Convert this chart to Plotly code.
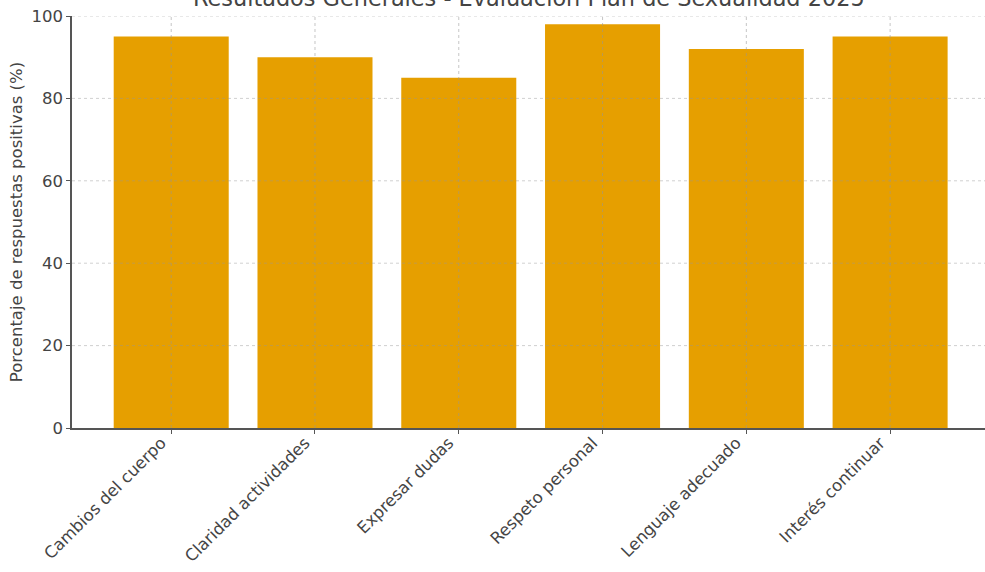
import plotly.graph_objects as go

# Datos de la evaluación
categorias = ['Cambios del cuerpo', 'Claridad actividades', 'Expresar dudas',
              'Respeto personal', 'Lenguaje adecuado', 'Interés continuar']
porcentajes = [95, 90, 85, 98, 92, 95]
y_ticks = [0, 20, 40, 60, 80, 100]

titulo = 'Resultados Generales - Evaluación Plan de Sexualidad 2025'
eje_y = 'Porcentaje de respuestas positivas (%)'

fig = go.Figure()
fig.add_trace(go.Bar(x=list(range(len(categorias))), y=porcentajes, width=0.8,
                     marker=dict(color='#E69F00', line=dict(width=0))))

# grid drawn above the bars (as in the original)
for i in range(len(categorias)):
    fig.add_shape(type='line', xref='x', yref='y', x0=i, x1=i, y0=0, y1=100, layer='above',
                  line=dict(color='rgba(150,150,150,0.55)', width=1, dash='dot'))
for v in y_ticks[1:]:
    fig.add_shape(type='line', xref='paper', yref='y', x0=0, x1=1, y0=v, y1=v, layer='above',
                  line=dict(color='rgba(150,150,150,0.45)', width=1, dash='dot'))

# title sits partly above the page edge, as in the reference image
fig.add_annotation(text=titulo, xref='paper', yref='paper', x=0.5, y=1.007,
                   xanchor='center', yanchor='bottom', showarrow=False,
                   font=dict(size=22.4, color='#444444'))

fig.update_layout(width=985, height=572, template='plotly_white', font_family='DejaVu Sans',
                  font=dict(color='#444444', size=16.5), showlegend=False,
                  plot_bgcolor='white', paper_bgcolor='white',
                  margin=dict(l=72, r=0, t=16, b=144, autoexpand=False))

fig.update_xaxes(range=[-0.69, 5.66], tickmode='array', tickvals=list(range(len(categorias))),
                 ticktext=categorias, tickangle=-45, showgrid=False, zeroline=False,
                 showline=True, linecolor='#555555', linewidth=1.5, ticks='outside', ticklen=4,
                 tickcolor='#555555', tickfont=dict(size=16.5, color='#444444'),
                 ticklabelshift=-10, ticklabelstandoff=-7, ticklabeloverflow='allow')
fig.update_yaxes(range=[0, 100], tickmode='array', tickvals=y_ticks, showgrid=False, zeroline=False,
                 showline=True, linecolor='#555555', linewidth=1.5, ticks='outside', ticklen=4,
                 tickcolor='#555555', tickfont=dict(size=16.5, color='#444444'), ticklabeloverflow='allow',
                 title=dict(text=eje_y, font=dict(size=16.5, color='#444444'), standoff=5))

# page without the default body margin so the chart starts at the window corner
fig.write_html("out.html", config={'displayModeBar': False},
               post_script='document.body.style.margin = "0";')
